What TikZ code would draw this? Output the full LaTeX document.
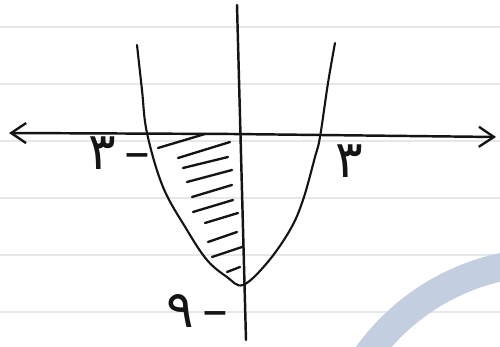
\documentclass[tikz,border=0pt]{standalone}
\usepackage{fontspec}
\usepackage{tikz}
\usetikzlibrary{
  arrows.meta,
  positioning,
  calc
}
\TeXXeTstate=1
\newfontfamily\arabicfont[Script=Arabic]{DejaVu Sans}
\definecolor{grInk}{HTML}{141414}
\definecolor{grRule}{HTML}{E4E8EB}
\definecolor{grWater}{HTML}{C4CEE1}
\tikzset{
  axisline/.style={line width=2.1pt, grInk, line cap=round},
  axistip/.style={-{Straight Barb[length=4.5mm, width=6mm, line width=2pt]}},
  graph/.style={line width=1.8pt, grInk, line cap=round},
  hatch/.style={line width=2pt, grInk, line cap=round},
  ruling/.style={line width=0.9pt, grRule},
  watermark/.style={line width=8.4mm, grWater},
  numlabel/.style={font=\arabicfont\fontsize{44}{48}\selectfont, inner sep=0pt, text=grInk}
}

\begin{document}
\begin{tikzpicture}[x=0.03cm, y=-0.03cm]
  \useasboundingbox (0,0) rectangle (500,347);
  \fill[white] (0,0) rectangle (500,347);
  \foreach \ry in {27,84,141,198,255,312}
    \draw[ruling] (0,\ry) -- (500,\ry);
  \begin{scope}
    \clip (0,0) rectangle (500,347);
    \draw[watermark] (549,486) circle[radius=224];
  \end{scope}

  \coordinate (xl) at (9,133);
  \coordinate (xr) at (496,137);
  \coordinate (yt) at (237,5);
  \coordinate (yb) at (246,340);
  \draw[axisline, axistip] (232,134) -- (xl);
  \draw[axisline, axistip] (232,134) -- (xr);
  \draw[axisline] (yt) -- (yb);

  \draw[graph] plot[smooth, tension=0.6] coordinates {
    (137,45) (142,90) (147,133) (163,187) (187,230) (207,260) (227,277) (243,285)
    (267,263) (290,230) (303,200) (315,157) (320,137) (328,83) (335,43)};

  \foreach \ax/\ay/\bx/\by in {
      158/148/205/134, 178/158/230/142, 183/168/228/157, 187/182/232/170,
      192/197/232/185, 193/212/233/200, 205/223/238/213, 208/242/237/232,
      212/257/242/247, 227/272/240/267}
    \draw[hatch] (\ax,\ay) -- (\bx,\by);

  \node[numlabel] (lm) at (119,153) {\beginR –\hspace{7pt}٣\endR};
  \node[numlabel] (lp) at (349,161) {\beginR ٣\endR};
  \node[numlabel] (lv) at (197,311) {\beginR –\hspace{7pt}٩\endR};
\end{tikzpicture}
\end{document}
